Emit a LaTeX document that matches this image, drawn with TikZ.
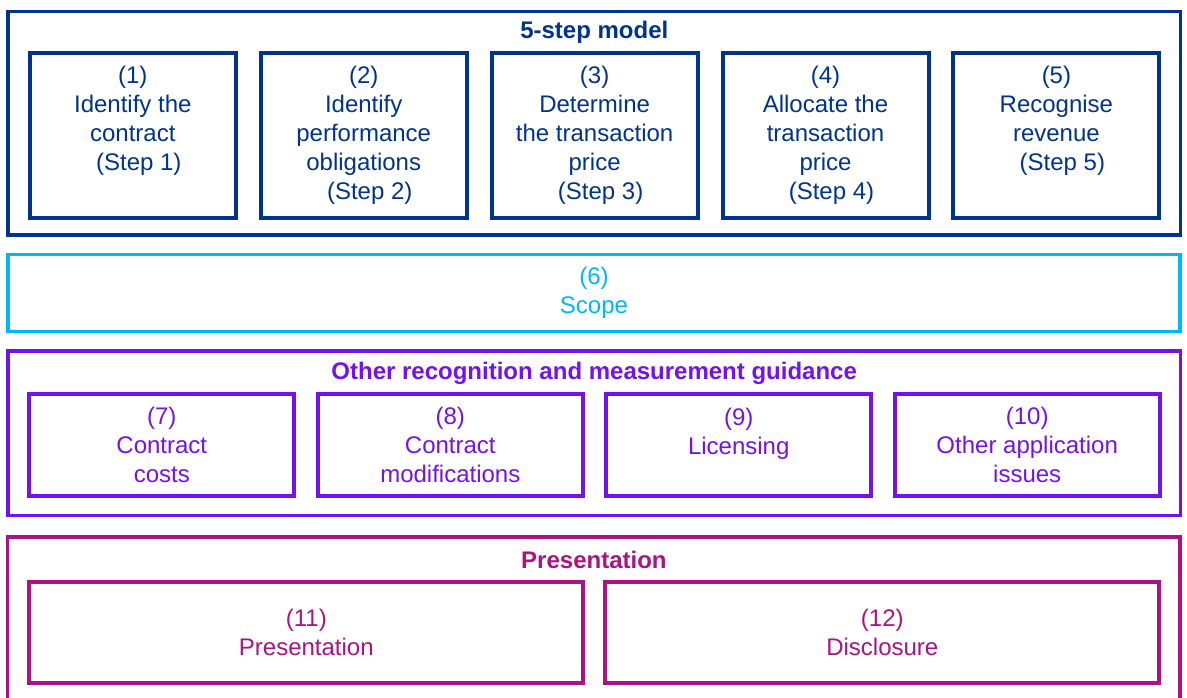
\documentclass[tikz,border=0pt]{standalone}
\usepackage{fontspec}
\setmainfont{Liberation Sans}
\definecolor{kblue}{HTML}{00338D}
\definecolor{kcyan}{HTML}{00B8F5}
\definecolor{kpurple}{HTML}{7213EA}
\definecolor{kpink}{HTML}{AB1384}
\tikzset{%
  inner sep=0pt,%
  size/.style 2 args={minimum width=#1*0.5pt,minimum height=#2*0.5pt},%
  frame/.style={draw=#1,line width=1.7pt,rectangle},%
  box/.style={draw=#1,text=#1,line width=2pt,rectangle,align=center,
    font=\fontsize{12}{14.5}\selectfont},%
  heading/.style={text=#1,font=\bfseries\fontsize{12}{14.5}\selectfont}%
}

\begin{document}
\begin{tikzpicture}[x=0.5pt,y=-0.5pt] % one unit = one pixel, y down

%% canvas

\clip (0,0) rectangle (1187,697);

%% 5-step model

\node[frame=kblue,size={1172.5}{223.5}] (model) at (594.3,123.3) {};
\node[heading=kblue] (modelhead) at (594.3,32.5) {5-step model};
\node[box=kblue,size={206}{165}] (s1) at (132.8,135.7)
    {(1)\\Identify the\\contract\\\hspace*{6pt}(Step 1)\\\vphantom{(}};
\node[box=kblue,size={206}{165}] (s2) at (363.7,135.7)
    {(2)\\Identify\\performance\\obligations\\\hspace*{6pt}(Step 2)};
\node[box=kblue,size={206}{165}] (s3) at (594.6,135.7)
    {(3)\\Determine\\the transaction\\price\\\hspace*{6pt}(Step 3)};
\node[box=kblue,size={206}{165}] (s4) at (825.5,135.7)
    {(4)\\Allocate the\\transaction\\price\\\hspace*{6pt}(Step 4)};
\node[box=kblue,size={206}{165}] (s5) at (1056.4,135.7)
    {(5)\\Recognise\\revenue\\\hspace*{6pt}(Step 5)\\\vphantom{(}};

%% scope

\node[box=kcyan,line width=1.7pt,size={1172}{77}] (scope) at (594,293.2)
    {(6)\\Scope};

%% other recognition and measurement guidance

\node[frame=kpurple,size={1172.3}{164.7}] (other) at (594.2,433.2) {};
\node[heading=kpurple] (otherhead) at (594.2,373.5)
    {Other recognition and measurement guidance};
\node[box=kpurple,size={265}{101.7}] (g7) at (161.8,445.3)
    {(7)\\Contract\\costs};
\node[box=kpurple,size={265}{101.7}] (g8) at (450.3,445.3)
    {(8)\\Contract\\modifications};
\node[box=kpurple,size={265}{101.7}] (g9) at (738.7,445.3)
    {(9)\\Licensing\\\mbox{}};
\node[box=kpurple,size={265}{101.7}] (g10) at (1027.2,445.3)
    {(10)\\Other application\\issues};

%% presentation

\node[frame=kpink,size={1172.3}{168}] (pres) at (593.9,621) {};
\node[heading=kpink] (preshead) at (593.9,560) {Presentation};
\node[box=kpink,size={554}{101}] (p11) at (306.3,632.7)
    {(11)\\Presentation};
\node[box=kpink,size={554}{101}] (p12) at (882.3,632.7)
    {(12)\\Disclosure};

\end{tikzpicture}
\end{document}
